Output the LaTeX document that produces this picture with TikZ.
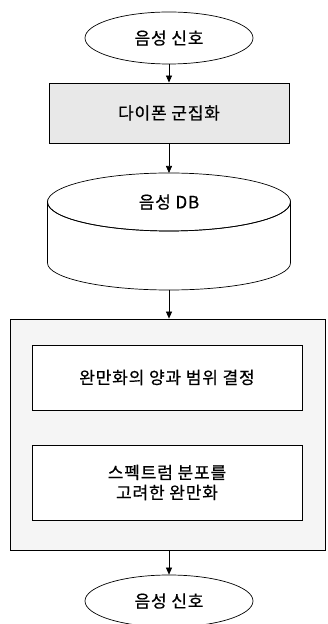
\documentclass[tikz,border=0pt]{standalone}
\usepackage{fontspec}
\newfontfamily\kofont{Noto Sans CJK KR}[FakeBold=0.6,LetterSpace=5]
\usetikzlibrary{arrows.meta,shapes.geometric}

\begin{document}
\begin{tikzpicture}[x=1pt,y=1pt,
  term/.style={ellipse,draw,line width=0.7pt,minimum width=168pt,minimum height=52pt,inner sep=0pt,font=\kofont\fontsize{17}{21}\selectfont},
  proc/.style={rectangle,draw,line width=0.9pt,minimum width=270pt,align=center,fill=white,font=\kofont\fontsize{17}{20}\selectfont},
  flow/.style={line width=0.7pt,-{Triangle[length=7pt,width=6pt]}}]
  \useasboundingbox (0,0) rectangle (327,624);
  % start / end terminals
  \node[term] (sigin) at (169,586) {음성 신호};
  \node[term] (sigout) at (169,23) {음성 신호};
  % clustering step
  \node[proc,fill=black!9,minimum width=240pt,minimum height=60pt] (dip) at (169,511) {다이폰 군집화};
  % speech database drawn as a drum
  \draw[line width=0.7pt,fill=white] (47.5,422) arc[start angle=180,end angle=360,x radius=121.5,y radius=29]
    -- (290.5,361) arc[start angle=0,end angle=-180,x radius=121.5,y radius=27] -- cycle;
  \draw[line width=0.7pt] (169,422) ellipse[x radius=121.5,y radius=29];
  \node[font=\kofont\fontsize{17}{21}\selectfont] (db) at (169,422) {음성 DB};
  \coordinate (dbtop) at (169,451);
  \coordinate (dbbot) at (169,334);
  % smoothing block with its two steps
  \node[draw,line width=0.8pt,fill=black!4,minimum width=315pt,minimum height=231pt,inner sep=0pt] (grp) at (167.5,189.5) {};
  \node[proc,minimum height=65pt] (amount) at (167,246.5) {완만화의 양과 범위 결정};
  \node[proc,minimum height=75pt] (spec) at (167,141.5) {스펙트럼 분포를\\고려한 완만화};
  % flow
  \draw[flow] (sigin) -- (dip);
  \draw[flow] (dip) -- (dbtop);
  \draw[flow] (dbbot) -- (dbbot |- grp.north);
  \draw[flow] (grp.south -| sigout) -- (sigout);
\end{tikzpicture}
\end{document}
